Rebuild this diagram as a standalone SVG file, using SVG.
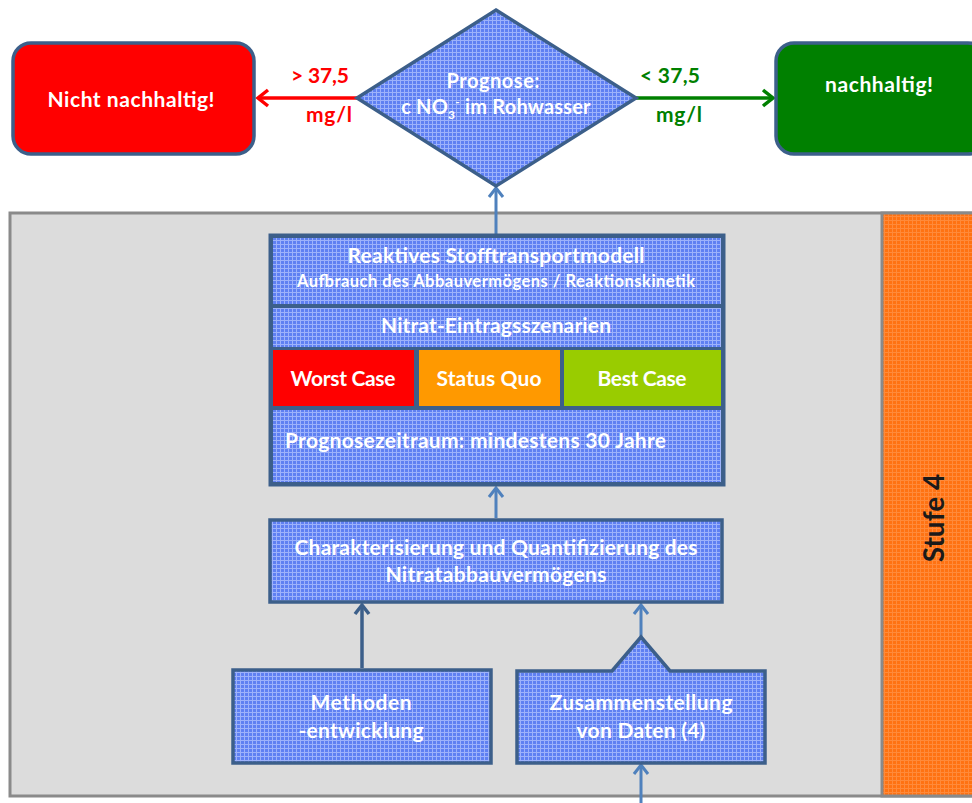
<svg xmlns="http://www.w3.org/2000/svg" width="972" height="803" viewBox="0 0 972 803">
<defs>
<pattern id="grid" width="4" height="4" patternUnits="userSpaceOnUse">
<rect width="4" height="4" fill="#5f80f2"/>
<path d="M0,0.5 H4 M0.5,0 V4" stroke="#9db2fb" stroke-width="1"/>
</pattern>
<pattern id="ogrid" width="4" height="4" patternUnits="userSpaceOnUse">
<rect width="4" height="4" fill="#ff7212"/>
<path d="M0,0.5 H4 M0.5,0 V4" stroke="#ff8a3a" stroke-width="1"/>
</pattern>
<marker id="aRed" markerUnits="userSpaceOnUse" markerWidth="24" markerHeight="24" viewBox="-14 -12 16 24" refX="0" refY="0" orient="auto"><path d="M-10,-8 L0,0 L-10,8" fill="none" stroke="#ff0000" stroke-width="3.5"/></marker>
<marker id="aGreen" markerUnits="userSpaceOnUse" markerWidth="24" markerHeight="24" viewBox="-14 -12 16 24" refX="0" refY="0" orient="auto"><path d="M-10,-8 L0,0 L-10,8" fill="none" stroke="#008000" stroke-width="3.5"/></marker>
<marker id="aBlue" markerUnits="userSpaceOnUse" markerWidth="24" markerHeight="24" viewBox="-14 -12 16 24" refX="0" refY="0" orient="auto"><path d="M-9,-7 L0,0 L-9,7" fill="none" stroke="#4f81bd" stroke-width="3"/></marker>
<marker id="aDark" markerUnits="userSpaceOnUse" markerWidth="24" markerHeight="24" viewBox="-14 -12 16 24" refX="0" refY="0" orient="auto"><path d="M-9,-7 L0,0 L-9,7" fill="none" stroke="#3c5f8a" stroke-width="3.5"/></marker>
</defs>
<style>
text{font-family:Lato,"Open Sans","Liberation Sans",sans-serif;font-weight:bold;}
.w{fill:#ffffff;text-anchor:middle;}
.node{stroke:#3c5f8a;stroke-width:3.5;}
.pat{fill:url(#grid);}
.lr{fill:#ff0000;font-size:21px;text-anchor:middle;}
.lg{fill:#008000;font-size:21px;text-anchor:middle;}
</style>
<rect width="972" height="803" fill="#ffffff"/>

<g id="panel">
<rect x="10" y="213" width="972" height="583" fill="#dcdcdc" stroke="#8a8a8a" stroke-width="3"/>
<rect x="882" y="213" width="92" height="583" fill="url(#ogrid)" stroke="#8a8a8a" stroke-width="3"/>
<text x="944" y="518" transform="rotate(-90 944 518)" text-anchor="middle" font-size="28" fill="#1a1a1a">Stufe 4</text>
</g>

<g id="connectors" fill="none">
<line x1="357" y1="98" x2="258" y2="98" stroke="#ff0000" stroke-width="3.5" marker-end="url(#aRed)"/>
<line x1="636" y1="98" x2="773" y2="98" stroke="#008000" stroke-width="3.5" marker-end="url(#aGreen)"/>
<line x1="496" y1="234" x2="496" y2="188" stroke="#4f81bd" stroke-width="3" marker-end="url(#aBlue)"/>
<line x1="496" y1="518" x2="496" y2="488" stroke="#4f81bd" stroke-width="3" marker-end="url(#aBlue)"/>
<line x1="362" y1="668" x2="362" y2="605" stroke="#3c5f8a" stroke-width="3.5" marker-end="url(#aDark)"/>
<line x1="641" y1="637" x2="641" y2="605" stroke="#4f81bd" stroke-width="3" marker-end="url(#aBlue)"/>
<line x1="641" y1="803" x2="641" y2="765" stroke="#4f81bd" stroke-width="3" marker-end="url(#aBlue)"/>
<text class="lr" x="320" y="83" textLength="58">&gt; 37,5</text>
<text class="lr" x="329" y="122" textLength="46">mg/l</text>
<text class="lg" x="670" y="83" textLength="60">&lt; 37,5</text>
<text class="lg" x="679" y="122" textLength="46">mg/l</text>
</g>

<g id="nicht">
<rect x="13" y="43" width="241" height="111" rx="18" fill="#ff0000" class="node"/>
<text class="w" x="131" y="107" font-size="21" textLength="167">Nicht nachhaltig!</text>
</g>

<g id="nachhaltig">
<rect x="776" y="43" width="210" height="111" rx="18" fill="#008000" class="node"/>
<text class="w" x="879" y="92" font-size="21" textLength="108">nachhaltig!</text>
</g>

<g id="prognose">
<polygon points="496,10 636,98 496,186 357,98" class="node pat"/>
<text class="w" x="493" y="88" font-size="20" textLength="93">Prognose:</text>
<text class="w" x="496" y="114" font-size="20" letter-spacing="0.2">c NO<tspan font-size="12" dy="5">3</tspan><tspan font-size="12" dy="-13">-</tspan><tspan dy="8"> im Rohwasser</tspan></text>
</g>

<g id="modell">
<rect x="270" y="235" width="454" height="250" fill="#3c5f8a" stroke="#3c5f8a" stroke-width="3"/>
<rect x="273" y="238" width="448" height="66" class="pat"/>
<rect x="273" y="308" width="448" height="39" class="pat"/>
<rect x="273" y="350" width="141" height="56" fill="#ff0000"/>
<rect x="419" y="350" width="141" height="56" fill="#ff9900"/>
<rect x="564" y="350" width="157" height="56" fill="#99cc00"/>
<rect x="273" y="410" width="448" height="72" class="pat"/>
<text class="w" x="496" y="263" font-size="21" textLength="297">Reaktives Stofftransportmodell</text>
<text class="w" x="496" y="287" font-size="16.5" textLength="398">Aufbrauch des Abbauvermögens / Reaktionskinetik</text>
<text class="w" x="496" y="333" font-size="21" textLength="230">Nitrat-Eintragsszenarien</text>
<text class="w" x="343" y="386" font-size="21" textLength="105">Worst Case</text>
<text class="w" x="489" y="386" font-size="21" textLength="105">Status Quo</text>
<text class="w" x="642" y="386" font-size="21" textLength="89">Best Case</text>
<text x="285" y="448" font-size="21" fill="#ffffff" textLength="381">Prognosezeitraum:  mindestens 30 Jahre</text>
</g>

<g id="charakter">
<rect x="270" y="520" width="452" height="82" class="node pat"/>
<text class="w" x="496" y="555" font-size="21" textLength="403">Charakterisierung und Quantifizierung des</text>
<text class="w" x="496" y="582" font-size="21" textLength="221">Nitratabbauvermögens</text>
</g>

<g id="methoden">
<rect x="233" y="670" width="258" height="93" class="node pat"/>
<text class="w" x="361" y="710" font-size="21" textLength="101">Methoden</text>
<text class="w" x="361" y="738" font-size="21" textLength="125">-entwicklung</text>
</g>

<g id="zusammen">
<path d="M517,671 H612 L641,637 L670,671 H765 V763 H517 Z" class="node pat"/>
<text class="w" x="641" y="710" font-size="21" textLength="183">Zusammenstellung</text>
<text class="w" x="641" y="738" font-size="21" textLength="129">von Daten (4)</text>
</g>
</svg>
